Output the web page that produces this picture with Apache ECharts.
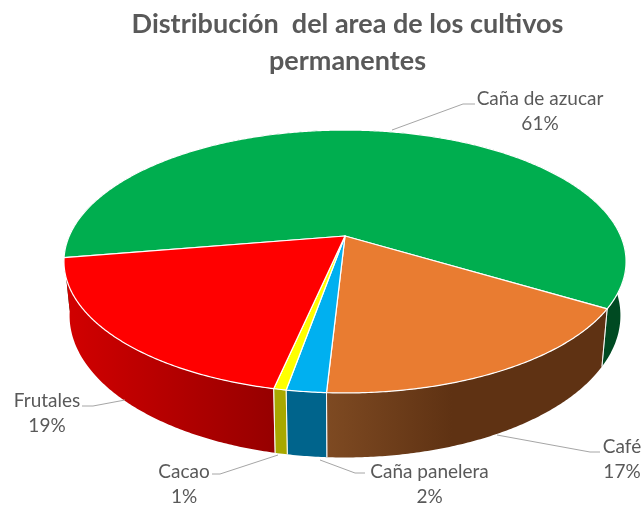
<!DOCTYPE html>
<html><head><meta charset="utf-8">
<style>html,body{margin:0;padding:0;background:#fff}#c{width:643px;height:506px}</style>
<script src="https://cdn.jsdelivr.net/npm/echarts@6/dist/echarts.min.js"></script>
</head><body><div id="c"></div>
<script>
// Data (clockwise from the left edge of the pie)
const categories = ['Caña de azucar', 'Café', 'Caña panelera', 'Cacao', 'Frutales'];
const values = [61.3, 17.2, 1.9, 0.6, 19.0];

// Styles
const topColors = ['#00AE4F', '#E97C31', '#00B0F0', '#FFFF00', '#FF0000'];
const wallFills = [
  {x0: 600, x1: 625, stops: [[0, '#004A22'], [1, '#004A22']]},
  {x0: 326, x1: 600, stops: [[0, '#7E4A22'], [0.46, '#5F3213'], [1, '#5F3213']]},
  {x0: 285, x1: 326, stops: [[0, '#00648C'], [1, '#00648C']]},
  {x0: 274, x1: 287, stops: [[0, '#A8A800'], [1, '#A8A800']]},
  {x0: 72, x1: 275, stops: [[0, '#D00000'], [1, '#960000']]}
];
// Label layout: text centre and leader line
const labelLayout = [
  {x: 540, y: 99, dy: 25, line: [[475, 104], [463, 104], [392, 130]]},
  {x: 622, y: 447, dy: 25, line: [[600, 452], [590, 452], [497, 435]]},
  {x: 429.5, y: 472, dy: 25, line: [[365, 473], [355, 473], [320, 460]]},
  {x: 184, y: 472, dy: 25, line: [[212, 474], [220, 474], [278, 455]]},
  {x: 47, y: 401, dy: 25, line: [[82, 406], [93, 406], [125, 400]]}
];
const FONT = 'Lato, "Open Sans", sans-serif';

// Perspective disc projection
const view = {cx: 345, cy: 236, a: 275.7, b: 126.5, k: 0.194, drop: 52, shrink: 0.98, start: 279.5};
function project(deg, lower) {
  const t = deg * Math.PI / 180, u = Math.sin(t), v = Math.cos(t), w = 1 - view.k * v;
  return [
    view.cx + (lower ? view.shrink : 1) * view.a * u / w,
    view.cy + (view.b * v + (lower ? view.drop : 0)) / w
  ];
}
function arc(from, to, lower) {
  const n = Math.max(2, Math.ceil(Math.abs(to - from) * 2)), pts = [];
  for (let i = 0; i <= n; i++) pts.push(project(from + (to - from) * i / n, lower));
  return pts;
}
const total = values.reduce((s, x) => s + x, 0);
const bounds = [view.start];
values.forEach((x, i) => bounds.push(bounds[i] - x / total * 360));

function renderItem(params) {
  const i = params.dataIndex, a0 = bounds[i], a1 = bounds[i + 1];
  const upper = arc(a0, a1, false), lower = arc(a0, a1, true).reverse();
  const f = wallFills[i], children = [];
  children.push({
    type: 'polygon', z2: 1, shape: {points: upper.concat(lower)},
    style: {fill: {type: 'linear', global: true, x: f.x0, y: 0, x2: f.x1, y2: 0,
      colorStops: f.stops.map(s => ({offset: s[0], color: s[1]}))}, stroke: null}
  });
  children.push({
    type: 'polygon', z2: 3, shape: {points: [[view.cx, view.cy]].concat(upper)},
    style: {fill: topColors[i], stroke: '#FFFFFF', lineWidth: 1.2, lineJoin: 'round'}
  });
  // wall separators at the slice ends on the near side
  [a0, a1].forEach(a => {
    if (Math.cos(a * Math.PI / 180) > 0.3) children.push({
      type: 'polyline', z2: 2, shape: {points: [project(a, false), project(a, true)]},
      style: {stroke: 'rgba(255,255,255,0.75)', lineWidth: 1, fill: null}
    });
  });
  const lay = labelLayout[i];
  children.push({
    type: 'polyline', z2: 4, shape: {points: lay.line},
    style: {stroke: '#A6A6A6', lineWidth: 1, fill: null}
  });
  const pct = Math.round(values[i] / total * 100) + '%';
  [[categories[i], lay.y], [pct, lay.y + lay.dy]].forEach(([text, y]) => {
    children.push({
      type: 'text', z2: 5, x: lay.x, y: y,
      style: {text: text, fill: '#595959', font: '19px ' + FONT, align: 'center', verticalAlign: 'middle'}
    });
  });
  return {type: 'group', children: children};
}

const chart = echarts.init(document.getElementById('c'), null, {renderer: 'canvas'});
chart.setOption({
  backgroundColor: '#FFFFFF',
  animation: false,
  title: {
    text: 'Distribución  del area de los cultivos\npermanentes',
    left: 342.5, top: 1, textAlign: 'center',
    textStyle: {fontFamily: FONT, fontWeight: 'bold', fontSize: 27, lineHeight: 37, color: '#595959'}
  },
  series: [{
    type: 'custom', coordinateSystem: 'none', silent: true,
    renderItem: renderItem,
    data: categories.map((c, i) => ({name: c, value: values[i]}))
  }]
});
</script></body></html>
